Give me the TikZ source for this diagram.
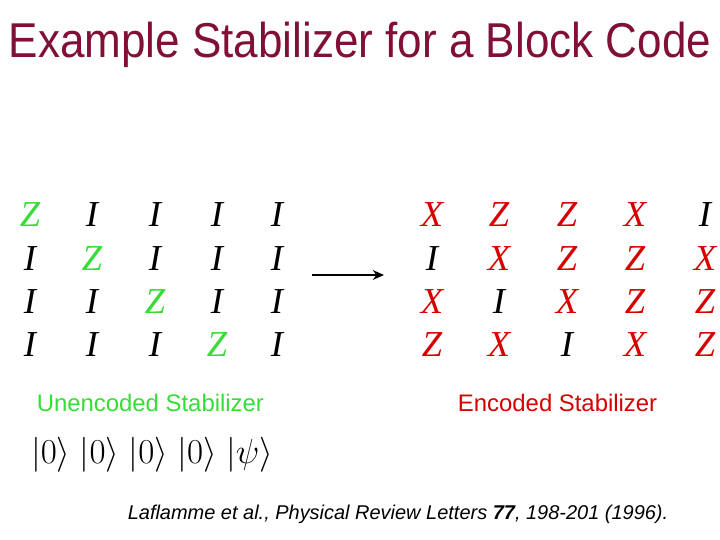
\documentclass[tikz,border=0pt]{standalone}
\usepackage{fontspec}
\setmainfont{Liberation Sans}
\newfontfamily\pauli{Liberation Serif}
\usepackage{amsmath}
\usepackage{tikz}
\usetikzlibrary{arrows.meta,positioning}
\definecolor{titlered}{RGB}{128,16,56}
\definecolor{stabgreen}{RGB}{55,220,55}
\definecolor{stabred}{RGB}{215,0,0}

\begin{document}
\begin{tikzpicture}[>=Stealth,
    entry/.style={inner sep=0pt,font=\fontsize{26}{26}\selectfont\pauli\itshape},
    pX/.style={entry,stabred},
    pZ/.style={entry,stabred},
    pI/.style={entry,black},
    caption/.style={inner sep=0pt,font=\fontsize{17}{19}\selectfont}]
  \useasboundingbox (0,0) rectangle (18,13.5);
  \node[titlered,inner sep=0pt,xscale=0.9,font=\fontsize{34.8}{36}\selectfont] (title) at (9,12.375)
     {Example Stabilizer for a Block Code};
  % unencoded stabilizer
  \foreach \r/\y in {1/8.125,2/7.025,3/5.95,4/4.875}{
    \foreach \c/\x in {1/0.75,2/2.3,3/3.875,4/5.425,5/6.925}{
      \ifnum\c=\r
        \node[entry,stabgreen] (u\r\c) at (\x,\y) {Z};
      \else
        \node[pI] (u\r\c) at (\x,\y) {I};
      \fi
    }
  }
  % encoded stabilizer
  \foreach \r/\y/\row in {1/8.125/{X,Z,Z,X,I},2/7.025/{I,X,Z,Z,X},
                          3/5.95/{X,I,X,Z,Z},4/4.875/{Z,X,I,X,Z}}{
    \foreach \s [count=\c] in \row{
      \pgfmathsetmacro\x{{10.8,12.475,14.175,15.875,17.625}[\c-1]}
      \node[p\s] (e\r\c) at (\x,\y) {\s};
    }
  }
  \coordinate (atail) at (7.8,6.625);
  \coordinate (ahead) at (9.6,6.625);
  \draw[->,line width=1pt,arrows={->[length=8pt,width=7pt]}] (atail) -- (ahead);
  \node[caption,stabgreen] (ulabel) at (3.76,3.425) {Unencoded Stabilizer};
  \node[caption,stabred] (elabel) at (13.94,3.425) {Encoded Stabilizer};
  \node[inner sep=0pt,font=\fontsize{24}{24}\selectfont] (kets) at (3.8,2.125)
     {$|0\rangle\ |0\rangle\ |0\rangle\ |0\rangle\ |\psi\rangle$};
  \node[inner sep=0pt,font=\fontsize{14.2}{16}\selectfont\itshape] (cite) at (9.95,0.65)
     {Laflamme et al., Physical Review Letters \textbf{77}, 198-201 (1996).};
\end{tikzpicture}
\end{document}
